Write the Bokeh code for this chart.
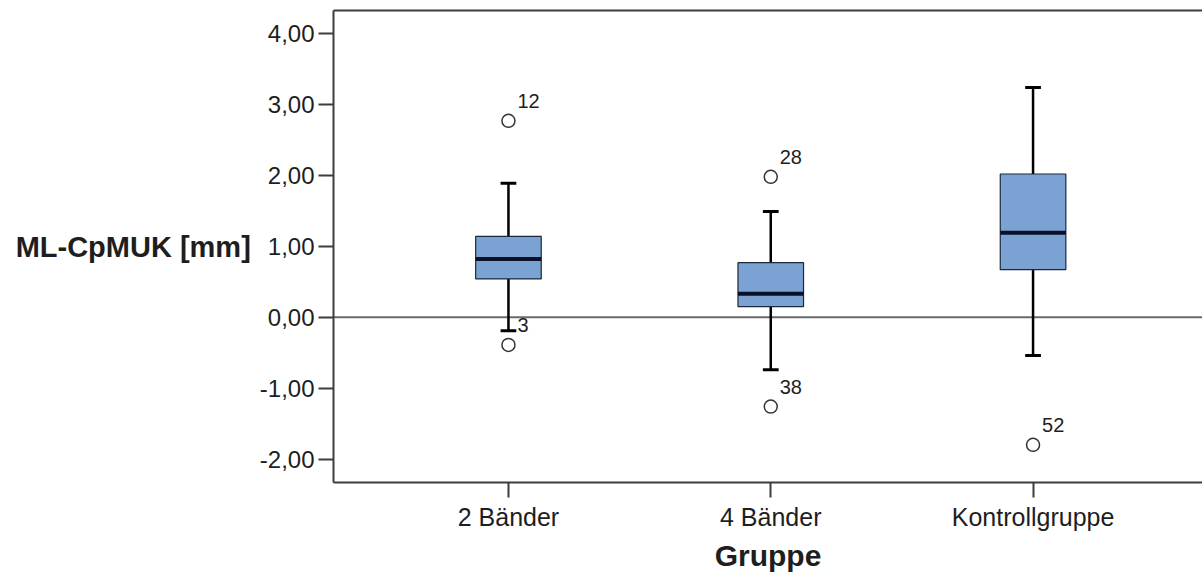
from bokeh.plotting import figure
from bokeh.models import Range1d, FixedTicker, LinearAxis, Span, ColumnDataSource, LabelSet
from bokeh.core.properties import value
from bokeh.embed import file_html
from bokeh.resources import INLINE

# ---- data ----
groups = ["2 Bänder", "4 Bänder", "Kontrollgruppe"]
whisker_lo = [-0.19, -0.74, -0.54]
q1 = [0.54, 0.15, 0.67]
median = [0.82, 0.33, 1.19]
q3 = [1.14, 0.77, 2.02]
whisker_hi = [1.89, 1.49, 3.24]

outlier_group = ["2 Bänder", "2 Bänder", "4 Bänder", "4 Bänder", "Kontrollgruppe"]
outlier_value = [2.77, -0.39, 1.98, -1.26, -1.80]
outlier_label = ["12", "3", "28", "38", "52"]

y_ticks = [-2, -1, 0, 1, 2, 3, 4]
y_tick_labels = ["-2,00", "-1,00", "0,00", "1,00", "2,00", "3,00", "4,00"]

x_title = "Gruppe"
y_title = "ML-CpMUK [mm]"

# ---- derived positions ----
xpos = [i + 1 for i in range(len(groups))]
pos_of = dict(zip(groups, xpos))
box_w = 0.25
cap_w = 0.06

box_src = ColumnDataSource(dict(
    x=xpos, lo=whisker_lo, q1=q1, med=median, q3=q3, hi=whisker_hi,
    left=[v - box_w / 2 for v in xpos], right=[v + box_w / 2 for v in xpos],
    cl=[v - cap_w / 2 for v in xpos], cr=[v + cap_w / 2 for v in xpos],
))
out_src = ColumnDataSource(dict(
    x=[pos_of[g] for g in outlier_group], y=outlier_value, label=outlier_label,
))

FONT = "Liberation Sans"
TXT = "#1e1e1e"
FRAME = "#3c3c3c"

p = figure(width=1202, height=579, output_backend="svg", toolbar_location=None,
           x_range=Range1d(0.333, 3.646), y_range=Range1d(-2.331, 4.326),
           min_border_left=333, min_border_right=0, min_border_top=10,
           min_border_bottom=97)
p.outline_line_color = None
p.xgrid.visible = False
p.ygrid.visible = False
p.background_fill_color = "white"
p.border_fill_color = "white"

# zero reference line
p.add_layout(Span(location=0, dimension="width", line_color="#6a6a6a",
                  line_width=2, level="underlay"))

# whiskers
p.segment(x0="x", y0="q3", x1="x", y1="hi", source=box_src, line_color="black", line_width=2.5)
p.segment(x0="x", y0="q1", x1="x", y1="lo", source=box_src, line_color="black", line_width=2.5)
p.segment(x0="cl", y0="hi", x1="cr", y1="hi", source=box_src, line_color="black", line_width=3)
p.segment(x0="cl", y0="lo", x1="cr", y1="lo", source=box_src, line_color="black", line_width=3)

# boxes
p.vbar(x="x", bottom="q1", top="q3", width=box_w, source=box_src,
       fill_color="#7aa3d3", line_color="#1b2838", line_width=1.2)
p.segment(x0="left", y0="med", x1="right", y1="med", source=box_src,
          line_color="#0b0f2a", line_width=4, line_cap="butt")

# outliers
p.scatter(x="x", y="y", source=out_src, marker="circle", size=13,
          fill_color="white", line_color="#333333", line_width=1.5)
p.add_layout(LabelSet(x="x", y="y", text="label", source=out_src,
                      x_offset=9, y_offset=13, text_baseline="alphabetic",
                      text_font=value(FONT), text_font_size=value("20px"),
                      text_color=value(TXT)))

# x axis
xa = p.xaxis[0]
xa.ticker = FixedTicker(ticks=xpos)
xa.major_label_overrides = {v: g for v, g in zip(xpos, groups)}
xa.axis_label = x_title
xa.axis_label_text_font = FONT
xa.axis_label_text_font_style = "bold"
xa.axis_label_text_font_size = "30px"
xa.axis_label_text_color = TXT
xa.axis_label_standoff = 5
xa.major_label_text_font = FONT
xa.major_label_text_font_size = "25px"
xa.major_label_text_color = TXT
xa.major_label_standoff = 5
xa.major_tick_out = 15
xa.major_tick_in = 0
xa.minor_tick_line_color = None
xa.axis_line_color = FRAME
xa.axis_line_width = 2
xa.major_tick_line_color = FRAME
xa.major_tick_line_width = 2

# y axis
ya = p.yaxis[0]
ya.ticker = FixedTicker(ticks=y_ticks)
ya.major_label_overrides = {v: s for v, s in zip(y_ticks, y_tick_labels)}
ya.axis_label = y_title
ya.axis_label_orientation = "horizontal"
ya.axis_label_text_font = FONT
ya.axis_label_text_font_style = "bold"
ya.axis_label_text_font_size = "29px"
ya.axis_label_text_color = TXT
ya.axis_label_standoff = 6
ya.major_label_text_font = FONT
ya.major_label_text_font_size = "24px"
ya.major_label_text_color = TXT
ya.major_label_standoff = 4
ya.major_tick_out = 15
ya.major_tick_in = 0
ya.minor_tick_line_color = None
ya.axis_line_color = FRAME
ya.axis_line_width = 2
ya.major_tick_line_color = FRAME
ya.major_tick_line_width = 2

# top frame line
top = LinearAxis(ticker=FixedTicker(ticks=[]), axis_line_color=FRAME, axis_line_width=2,
                 major_tick_line_color=None, minor_tick_line_color=None,
                 major_label_text_font_size="0px")
p.add_layout(top, "above")

open("out.html", "w").write(file_html(p, INLINE))
